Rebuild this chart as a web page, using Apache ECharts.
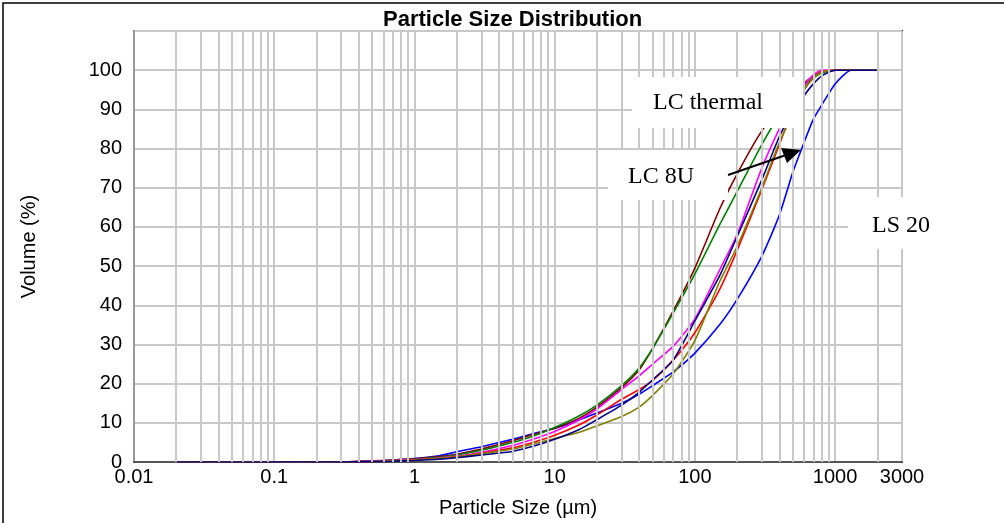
<!DOCTYPE html>
<html>
<head>
<meta charset="utf-8">
<script src="https://cdn.jsdelivr.net/npm/echarts@6/dist/echarts.min.js"></script>
<style>
  html, body { margin: 0; padding: 0; background: #fff; }
  #psd { width: 1004px; height: 523px; }
</style>
</head>
<body>
<div id="psd"></div>
<script>
// particle sizes (µm) shared by all curves
var sizes = [0.02, 0.3, 0.5, 0.7, 1, 1.5, 2, 3, 5, 7, 10, 15, 20, 30, 40, 50, 70, 100, 150, 200, 300, 400, 500, 600, 700, 800, 1000, 1300, 1500, 2000];

// cumulative volume (%)
var ls20    = [0, 0, 0.2, 0.5, 0.9, 1.6, 2.6, 3.9, 5.8, 7.2, 8.6, 10.8, 12.5, 15, 17.3, 19.5, 23, 27.8, 35, 41.5, 52.5, 63, 74, 81.5, 87.5, 91, 96.5, 100, 100, 100];
var maroon  = [0, 0, 0.3, 0.5, 0.8, 1.4, 2.0, 3.3, 5.4, 7.0, 8.6, 11.2, 14, 19, 23.5, 29, 38.5, 49.5, 64.5, 73.5, 84.5, 90, 94, 96.7, 98.5, 99.5, 100, 100, 100, 100];
var green   = [0, 0, 0.2, 0.4, 0.7, 1.2, 1.8, 3.0, 5.0, 6.6, 8.8, 11.8, 14.5, 19.5, 24, 29, 38, 48, 60.5, 69, 81, 88.5, 93, 96, 98, 99.3, 100, 100, 100, 100];
var magenta = [0, 0, 0.2, 0.4, 0.6, 1.0, 1.5, 2.5, 4.2, 5.8, 7.8, 10.8, 13.5, 18.5, 22, 25, 29.5, 36.5, 49, 58, 75, 85, 91.5, 96, 98.8, 100, 100, 100, 100, 100];
var red     = [0, 0, 0.1, 0.3, 0.5, 0.9, 1.3, 2.2, 3.6, 5.0, 6.8, 9.5, 12, 16, 18.5, 20.8, 26, 33, 44, 54, 69.5, 81, 90, 95, 98, 99.6, 100, 100, 100, 100];
var olive   = [0, 0, 0.1, 0.3, 0.5, 0.9, 1.3, 2.1, 3.3, 4.6, 6.0, 7.6, 9.2, 11.6, 14, 17, 22.5, 31, 46, 55, 70, 81.5, 89, 95, 98, 99.5, 100, 100, 100, 100];
var navy    = [0, 0, 0.1, 0.2, 0.4, 0.7, 1.1, 1.8, 2.7, 4.0, 5.8, 8.3, 10.8, 14.5, 17.8, 21, 26, 36, 47.5, 57.5, 72, 83, 89.5, 93.5, 96.5, 98.5, 100, 100, 100, 100];

var curves = [
  { name: 'LS 20', values: ls20, color: '#0000ff' },
  { name: 'S2', values: maroon, color: '#800000' },
  { name: 'S3', values: green, color: '#008000' },
  { name: 'S4', values: magenta, color: '#ff00ff' },
  { name: 'S5', values: red, color: '#ff0000' },
  { name: 'S6', values: olive, color: '#808000' },
  { name: 'S7', values: navy, color: '#000080' }
];

// minor grid positions 2..9 in every decade
var minorTicks = [];
[0.01, 0.1, 1, 10, 100, 1000].forEach(function (d) {
  for (var k = 2; k <= 9; k++) {
    var v = +(d * k).toPrecision(6);
    if (v < 3000) minorTicks.push(v);
  }
});

var gridGray = '#c8c8c8';
var series = curves.map(function (c) {
  return {
    name: c.name,
    type: 'line',
    symbol: 'none',
    smooth: 0.2,
    z: 3,
    lineStyle: { color: c.color, width: 1.6 },
    data: sizes.map(function (s, i) { return [s, c.values[i]]; })
  };
});
series.unshift({
  type: 'line',
  z: 1,
  data: [],
  markLine: {
    silent: true,
    symbol: 'none',
    animation: false,
    label: { show: false },
    lineStyle: { color: gridGray, width: 2, type: 'solid' },
    data: minorTicks.map(function (v) { return { xAxis: v }; })
  }
});

var myChart = echarts.init(document.getElementById('psd'));
var option = {
  animation: false,
  title: {
    text: 'Particle Size Distribution',
    left: 378,
    top: 4,
    textStyle: { fontFamily: 'Liberation Sans, Arial', fontWeight: 'bold', fontSize: 22, color: '#000' }
  },
  grid: {
    left: 134, right: 102, top: 31, bottom: 60,
    show: true, borderColor: '#000', borderWidth: 2, backgroundColor: '#fff'
  },
  xAxis: {
    type: 'log',
    logBase: 10,
    min: 0.01,
    max: 3000,
    name: 'Particle Size (µm)',
    nameLocation: 'middle',
    nameGap: 36,
    nameTextStyle: { fontFamily: 'Liberation Sans, Arial', fontSize: 20, color: '#000' },
    axisLine: { show: true, lineStyle: { color: '#555', width: 2 } },
    axisTick: { show: false },
    axisLabel: {
      fontFamily: 'Liberation Sans, Arial', fontSize: 20, color: '#000', margin: 5,
      formatter: function (v) { return String(+(+v).toPrecision(6)); }
    },
    splitLine: { show: true, lineStyle: { color: gridGray, width: 2 } }
  },
  yAxis: {
    type: 'value',
    min: 0,
    max: 110,
    interval: 10,
    name: 'Volume (%)',
    nameLocation: 'middle',
    nameGap: 95,
    nameTextStyle: { fontFamily: 'Liberation Sans, Arial', fontSize: 20, color: '#000' },
    axisLine: { show: true, lineStyle: { color: '#999', width: 2 } },
    axisTick: { show: false },
    axisLabel: {
      fontFamily: 'Liberation Sans, Arial', fontSize: 20, color: '#000', margin: 12,
      formatter: function (v) { return v > 100 ? '' : String(v); }
    },
    splitLine: { show: true, lineStyle: { color: gridGray, width: 2 } }
  },
  series: series,
  graphic: [
    { type: 'rect', z: 0, silent: true, shape: { x: 3, y: 3, width: 1010, height: 530 },
      style: { fill: 'none', stroke: '#000', lineWidth: 1.5 } },
    { type: 'rect', z: 100, shape: { x: 632, y: 77, width: 171, height: 51 }, style: { fill: '#fff' } },
    { type: 'rect', z: 100, shape: { x: 608, y: 150, width: 120, height: 50 }, style: { fill: '#fff' } },
    { type: 'rect', z: 100, shape: { x: 848, y: 197, width: 112, height: 52 }, style: { fill: '#fff' } },
    { type: 'text', z: 101, x: 708, y: 103,
      style: { text: 'LC thermal', font: '24px "Liberation Serif", "Times New Roman", serif', fill: '#000', align: 'center', verticalAlign: 'middle' } },
    { type: 'text', z: 101, x: 661, y: 177,
      style: { text: 'LC 8U', font: '24px "Liberation Serif", "Times New Roman", serif', fill: '#000', align: 'center', verticalAlign: 'middle' } },
    { type: 'text', z: 101, x: 901, y: 226,
      style: { text: 'LS 20', font: '24px "Liberation Serif", "Times New Roman", serif', fill: '#000', align: 'center', verticalAlign: 'middle' } },
    { type: 'line', z: 102, shape: { x1: 728, y1: 175, x2: 786, y2: 155 }, style: { stroke: '#000', lineWidth: 2 } },
    { type: 'polygon', z: 102, shape: { points: [[801, 150], [781, 148], [787, 163]] }, style: { fill: '#000' } }
  ]
};
myChart.setOption(option);
</script>
</body>
</html>
